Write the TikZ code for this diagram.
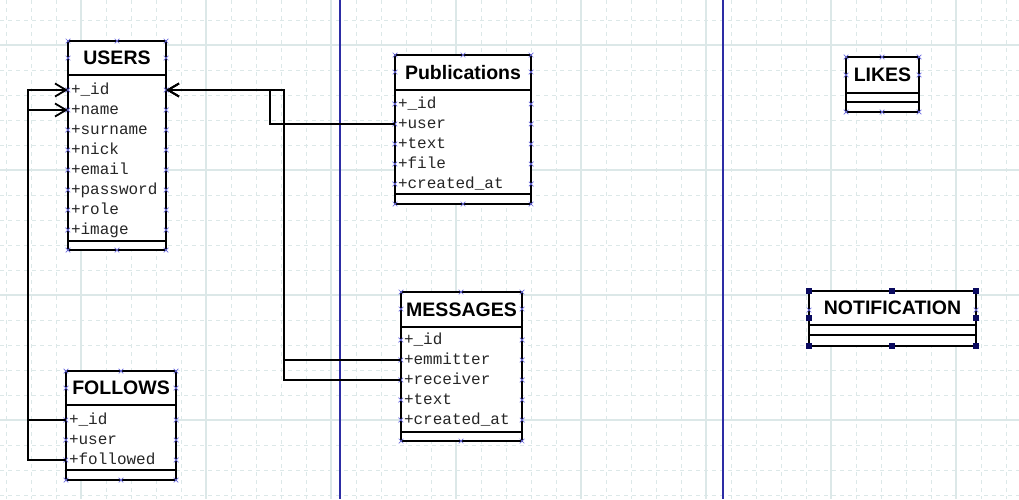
\documentclass[tikz,border=0pt]{standalone}
\usepackage{fontspec}
\newfontfamily\titlefont{Liberation Sans}
\newfontfamily\rowfont{Liberation Mono}
\usetikzlibrary{arrows.meta, shapes.misc, positioning}

\definecolor{gridcol}{RGB}{220,232,232}
\definecolor{lanecol}{RGB}{45,45,165}
\definecolor{markcol}{RGB}{110,110,225}
\definecolor{handlecol}{RGB}{10,10,95}

% crosses on corners, middle of top/bottom and beside the title
\newcommand{\tabmarks}[6]{%
  \foreach \mx/\my in {#1/#4,#2/#4,#3/#4,#1/#5,#3/#5,#1/#6,#2/#6,#3/#6}
    \node[xcross] at (\mx,\my) {};}

\begin{document}
\begin{tikzpicture}[x=1pt, y=-1pt,
  minorgrid/.style={gridcol, line width=1pt, dash pattern=on 4pt off 4pt},
  majorgrid/.style={gridcol, line width=1.2pt},
  lane/.style={lanecol, line width=1.2pt},
  tabline/.style={line width=2pt},
  tabhead/.style={font=\titlefont\bfseries\fontsize{19.5}{20}\selectfont, inner sep=0pt},
  row/.style={font=\rowfont\fontsize{16}{16}\selectfont, text=black!85, inner xsep=3pt, inner ysep=0pt,
    align=left, text height=1em, text depth=0.1em},
  xcross/.style={cross out, draw=markcol, line width=0.7pt, minimum size=4pt, inner sep=0pt},
  selhandle/.style={fill=handlecol, minimum size=6pt, inner sep=0pt},
  conn/.style={line width=1.8pt},
  toarrow/.style={-{Straight Barb[length=11pt, width=13pt]}}
]
		\fill[white] (0,0) rectangle (1019,499);
		\useasboundingbox (0,0) rectangle (1019,499);

		% grid
		\foreach \x in {6,31,...,1006} \draw[minorgrid] (\x,0) -- (\x,499);
		\foreach \y in {20,45,...,495} \draw[minorgrid] (0,\y) -- (1019,\y);
		\foreach \x in {81,206,...,956} \draw[majorgrid] (\x,0) -- (\x,499);
		\foreach \y in {45,170,295,420} \draw[majorgrid] (0,\y) -- (1019,\y);
		\draw[lane] (340,0) -- (340,499);
		\draw[lane] (723,0) -- (723,499);

		% USERS
		\filldraw[tabline, fill=white] (68,41) rectangle (166,250);
		\draw[tabline] (68,75) -- (166,75) (68,241) -- (166,241);
		\node[tabhead] (users) at (117,58) {USERS};
		\foreach \rn/\rt [count=\i] in {id/+\_id, name/+name, surname/+surname, nick/+nick,
		  email/+email, password/+password, role/+role, image/+image} {
		  \node[row, text width=92pt] (users-\rn) at (117,70+20*\i) {\rt};
		  \node[xcross] at (users-\rn.west) {};
		  \node[xcross] at (users-\rn.east) {};
		}
		\tabmarks{68}{117}{166}{41}{58}{250}

		% Publications
		\filldraw[tabline, fill=white] (395,55) rectangle (531,204);
		\draw[tabline] (395,90) -- (531,90) (395,194) -- (531,194);
		\node[tabhead] (pub) at (463,72.5) {Publications};
		\foreach \rn/\rt [count=\i] in {id/+\_id, user/+user, text/+text, file/+file, created/+created\_at} {
		  \node[row, text width=130pt] (pub-\rn) at (463,84+20*\i) {\rt};
		  \node[xcross] at (pub-\rn.west) {};
		  \node[xcross] at (pub-\rn.east) {};
		}
		\tabmarks{395}{463}{531}{55}{72}{204}

		% MESSAGES
		\filldraw[tabline, fill=white] (401,292) rectangle (522,441);
		\draw[tabline] (401,327) -- (522,327) (401,432) -- (522,432);
		\node[tabhead] (msg) at (461.5,309.5) {MESSAGES};
		\foreach \rn/\rt [count=\i] in {id/+\_id, emmitter/+emmitter, receiver/+receiver, text/+text, created/+created\_at} {
		  \node[row, text width=115pt] (msg-\rn) at (461.5,320+20*\i) {\rt};
		  \node[xcross] at (msg-\rn.west) {};
		  \node[xcross] at (msg-\rn.east) {};
		}
		\tabmarks{401}{461}{522}{292}{309}{441}

		% FOLLOWS
		\filldraw[tabline, fill=white] (66,371) rectangle (176,480);
		\draw[tabline] (66,405) -- (176,405) (66,470) -- (176,470);
		\node[tabhead] (fol) at (121,388) {FOLLOWS};
		\foreach \rn/\rt [count=\i] in {id/+\_id, user/+user, followed/+followed} {
		  \node[row, text width=104pt] (fol-\rn) at (121,400+20*\i) {\rt};
		  \node[xcross] at (fol-\rn.west) {};
		  \node[xcross] at (fol-\rn.east) {};
		}
		\tabmarks{66}{121}{176}{371}{388}{480}

		% LIKES
		\filldraw[tabline, fill=white] (846,57) rectangle (919,112);
		\draw[tabline] (846,93) -- (919,93) (846,102) -- (919,102);
		\node[tabhead] (likes) at (882.5,75) {LIKES};
		\tabmarks{846}{882}{919}{57}{75}{112}

		% NOTIFICATION (selected)
		\filldraw[tabline, fill=white] (809,291) rectangle (976,346);
		\draw[tabline] (809,325) -- (976,325) (809,335) -- (976,335);
		\node[tabhead] (notif) at (892.5,308) {NOTIFICATION};
		\node[xcross] at (809,310) {};
		\node[xcross] at (976,310) {};
		\foreach \hx/\hy in {809/291, 892/291, 976/291, 809/318, 976/318, 809/346, 892/346, 976/346}
		  \node[selhandle] at (\hx,\hy) {};

		% connectors
		\coordinate (pubbend) at ([xshift=104pt]users-id.east);
		\coordinate (msgbend) at ([xshift=118pt]users-id.east);
		\coordinate (folbend) at ([xshift=-40pt]users-id.west);
		\coordinate (folbendb) at ([xshift=-40pt]users-name.west);
		\draw[conn, toarrow] (pub-user.west) -| (pubbend) -- (users-id.east);
		\draw[conn, toarrow] (msg-emmitter.west) -| (msgbend) -- (users-id.east);
		\draw[conn, toarrow] (msg-receiver.west) -| (msgbend) -- (users-id.east);
		\draw[conn, toarrow] (fol-id.west) -| (folbend) -- (users-id.west);
		\draw[conn, toarrow] (fol-followed.west) -| (folbendb) -- (users-name.west);
\end{tikzpicture}
\end{document}
